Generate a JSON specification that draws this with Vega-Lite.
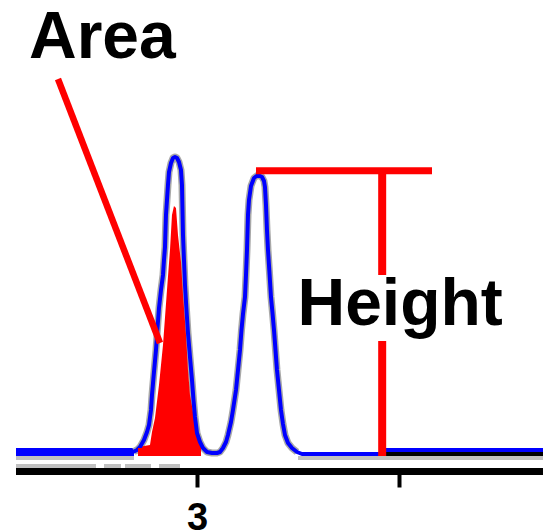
{
  "$schema": "https://vega.github.io/schema/vega-lite/v6.json",
  "width": 543,
  "height": 471,
  "padding": 0,
  "autosize": {"type": "pad"},
  "background": "white",
  "config": {"view": {"stroke": null}},
  "datasets": {
    "curve": [
      {"t": 2.1040, "v": 19}, {"t": 2.6584, "v": 19}, {"t": 2.6881, "v": 19.5}, {"t": 2.7030, "v": 21},
      {"t": 2.7178, "v": 24}, {"t": 2.7376, "v": 31}, {"t": 2.7525, "v": 39}, {"t": 2.7624, "v": 46},
      {"t": 2.7723, "v": 61}, {"t": 2.7772, "v": 76}, {"t": 2.7871, "v": 99}, {"t": 2.7970, "v": 121},
      {"t": 2.8045, "v": 143}, {"t": 2.8119, "v": 163}, {"t": 2.8218, "v": 181}, {"t": 2.8317, "v": 196},
      {"t": 2.8366, "v": 211}, {"t": 2.8416, "v": 224}, {"t": 2.8441, "v": 241}, {"t": 2.8465, "v": 256},
      {"t": 2.8515, "v": 271}, {"t": 2.8564, "v": 286}, {"t": 2.8614, "v": 299}, {"t": 2.8713, "v": 308},
      {"t": 2.8812, "v": 313}, {"t": 2.8911, "v": 314}, {"t": 2.9010, "v": 313}, {"t": 2.9109, "v": 309},
      {"t": 2.9208, "v": 301}, {"t": 2.9257, "v": 286}, {"t": 2.9282, "v": 261}, {"t": 2.9307, "v": 236},
      {"t": 2.9356, "v": 211}, {"t": 2.9406, "v": 186}, {"t": 2.9480, "v": 161}, {"t": 2.9554, "v": 138},
      {"t": 2.9653, "v": 114}, {"t": 2.9752, "v": 91}, {"t": 2.9827, "v": 71}, {"t": 2.9901, "v": 54},
      {"t": 3.0000, "v": 38}, {"t": 3.0149, "v": 29}, {"t": 3.0297, "v": 23}, {"t": 3.0495, "v": 19},
      {"t": 3.0743, "v": 18}, {"t": 3.0990, "v": 18}, {"t": 3.1139, "v": 19}, {"t": 3.1287, "v": 23},
      {"t": 3.1436, "v": 29}, {"t": 3.1535, "v": 36}, {"t": 3.1683, "v": 49}, {"t": 3.1782, "v": 61},
      {"t": 3.1931, "v": 81}, {"t": 3.2030, "v": 101}, {"t": 3.2129, "v": 121}, {"t": 3.2203, "v": 141},
      {"t": 3.2277, "v": 157}, {"t": 3.2376, "v": 174}, {"t": 3.2426, "v": 196}, {"t": 3.2475, "v": 221},
      {"t": 3.2525, "v": 256}, {"t": 3.2574, "v": 271}, {"t": 3.2673, "v": 285}, {"t": 3.2822, "v": 293},
      {"t": 3.3020, "v": 296}, {"t": 3.3218, "v": 294}, {"t": 3.3317, "v": 290}, {"t": 3.3366, "v": 284},
      {"t": 3.3416, "v": 266}, {"t": 3.3465, "v": 241}, {"t": 3.3515, "v": 221}, {"t": 3.3589, "v": 198},
      {"t": 3.3663, "v": 174}, {"t": 3.3738, "v": 158}, {"t": 3.3812, "v": 141}, {"t": 3.3886, "v": 121},
      {"t": 3.3960, "v": 101}, {"t": 3.4059, "v": 81}, {"t": 3.4158, "v": 61}, {"t": 3.4257, "v": 47},
      {"t": 3.4356, "v": 36}, {"t": 3.4505, "v": 28}, {"t": 3.4703, "v": 23}, {"t": 3.4950, "v": 19},
      {"t": 3.5198, "v": 17}, {"t": 3.9158, "v": 17}, {"t": 3.9208, "v": 21}, {"t": 4.7129, "v": 21}
    ],
    "fill": [
      {"t": 2.7079, "v": 24}, {"t": 2.7673, "v": 26}, {"t": 2.7772, "v": 39}, {"t": 2.7921, "v": 53},
      {"t": 2.8119, "v": 86}, {"t": 2.8317, "v": 126}, {"t": 2.8515, "v": 181}, {"t": 2.8663, "v": 221},
      {"t": 2.8762, "v": 256}, {"t": 2.8861, "v": 265}, {"t": 2.8960, "v": 263}, {"t": 2.9059, "v": 236},
      {"t": 2.9208, "v": 209}, {"t": 2.9307, "v": 176}, {"t": 2.9455, "v": 136}, {"t": 2.9554, "v": 101},
      {"t": 2.9653, "v": 76}, {"t": 2.9802, "v": 59}, {"t": 3.0000, "v": 41}, {"t": 3.0099, "v": 31},
      {"t": 3.0198, "v": 26}
    ],
    "strip": [
      {"t": 2.7079, "v": 23}, {"t": 3.0198, "v": 23}
    ],
    "rules": [
      {"part": "lightgray", "t": 2.1040, "t2": 2.6881, "v": 13, "v2": 13},
      {"part": "lightgray", "t": 3.5000, "t2": 4.7129, "v": 13, "v2": 13},
      {"part": "lightgray", "t": 2.1040, "t2": 2.5000, "v": 5, "v2": 5},
      {"part": "lightgray", "t": 2.5396, "t2": 2.6238, "v": 5, "v2": 5},
      {"part": "lightgray", "t": 2.6436, "t2": 2.7723, "v": 5, "v2": 5},
      {"part": "lightgray", "t": 2.8119, "t2": 2.9158, "v": 5, "v2": 5},
      {"part": "axisline", "t": 2.1040, "t2": 4.7129, "v": -0.5, "v2": -0.5},
      {"part": "blackbase", "t": 3.9356, "t2": 4.7129, "v": 17, "v2": 17},
      {"part": "bluebase", "t": 2.1040, "t2": 2.6881, "v": 19, "v2": 19},
      {"part": "diag", "t": 2.3119, "t2": 2.8168, "v": 392, "v2": 128},
      {"part": "horiz", "t": 3.2921, "t2": 4.1634, "v": 300.2, "v2": 300.2},
      {"part": "vert", "t": 3.9168, "t2": 3.9168, "v": 300.2, "v2": 196},
      {"part": "vert", "t": 3.9168, "t2": 3.9168, "v": 130, "v2": 15}
    ],
    "labels": [
      {"label": "Area", "t": 2.1683, "v": 413},
      {"label": "Height", "t": 3.4975, "v": 146}
    ]
  },
  "encoding": {
    "x": {
      "field": "t",
      "type": "quantitative",
      "scale": {"domain": [2.0248, 4.7129], "nice": false, "zero": false},
      "axis": {
        "values": [3, 4],
        "labelExpr": "datum.value == 3 ? '3' : ''",
        "domain": false,
        "grid": false,
        "title": null,
        "tickColor": "black",
        "tickWidth": 4,
        "tickSize": 16,
        "labelFont": "Liberation Sans",
        "labelFontSize": 38,
        "labelFontWeight": "bold",
        "labelColor": "black",
        "labelPadding": 12,
        "labelFlush": false
      }
    },
    "y": {
      "field": "v",
      "type": "quantitative",
      "scale": {"domain": [0, 471], "nice": false, "zero": false},
      "axis": null
    }
  },
  "layer": [
    {
      "data": {"name": "rules"},
      "transform": [{"filter": "datum.part == 'lightgray'"}],
      "mark": {"type": "rule", "color": "#c0c0c0", "strokeWidth": 4},
      "encoding": {"x2": {"field": "t2"}, "y2": {"field": "v2"}}
    },
    {
      "data": {"name": "rules"},
      "transform": [{"filter": "datum.part == 'axisline'"}],
      "mark": {"type": "rule", "color": "black", "strokeWidth": 7},
      "encoding": {"x2": {"field": "t2"}, "y2": {"field": "v2"}}
    },
    {
      "data": {"name": "rules"},
      "transform": [{"filter": "datum.part == 'blackbase'"}],
      "mark": {"type": "rule", "color": "black", "strokeWidth": 4},
      "encoding": {"x2": {"field": "t2"}, "y2": {"field": "v2"}}
    },
    {
      "data": {"name": "rules"},
      "transform": [{"filter": "datum.part == 'bluebase'"}],
      "mark": {"type": "rule", "color": "#0000ff", "strokeWidth": 8},
      "encoding": {"x2": {"field": "t2"}, "y2": {"field": "v2"}}
    },
    {
      "data": {"name": "curve"},
      "transform": [{"filter": "datum.t >= 2.68 && datum.t <= 3.5"}],
      "mark": {"type": "line", "color": "#a8a8a8", "strokeWidth": 7, "strokeJoin": "round"}
    },
    {
      "data": {"name": "fill"},
      "mark": {"type": "area", "color": "#ff0000", "opacity": 1},
      "encoding": {"y2": {"datum": 15}}
    },
    {
      "data": {"name": "curve"},
      "mark": {"type": "line", "color": "#0000ff", "strokeWidth": 4, "strokeJoin": "round"}
    },
    {
      "data": {"name": "strip"},
      "mark": {"type": "area", "color": "#ff0000", "opacity": 1},
      "encoding": {"y2": {"datum": 15}}
    },
    {
      "data": {"name": "rules"},
      "transform": [{"filter": "datum.part == 'diag'"}],
      "mark": {"type": "rule", "color": "#ff0000", "strokeWidth": 6.5},
      "encoding": {"x2": {"field": "t2"}, "y2": {"field": "v2"}}
    },
    {
      "data": {"name": "rules"},
      "transform": [{"filter": "datum.part == 'horiz'"}],
      "mark": {"type": "rule", "color": "#ff0000", "strokeWidth": 7},
      "encoding": {"x2": {"field": "t2"}, "y2": {"field": "v2"}}
    },
    {
      "data": {"name": "rules"},
      "transform": [{"filter": "datum.part == 'vert'"}],
      "mark": {"type": "rule", "color": "#ff0000", "strokeWidth": 8},
      "encoding": {"x2": {"field": "t2"}, "y2": {"field": "v2"}}
    },
    {
      "data": {"name": "labels"},
      "mark": {"type": "text", "align": "left", "baseline": "alphabetic", "font": "Liberation Sans", "fontWeight": "bold", "fontSize": 66, "color": "black"},
      "encoding": {"text": {"field": "label"}}
    }
  ]
}
